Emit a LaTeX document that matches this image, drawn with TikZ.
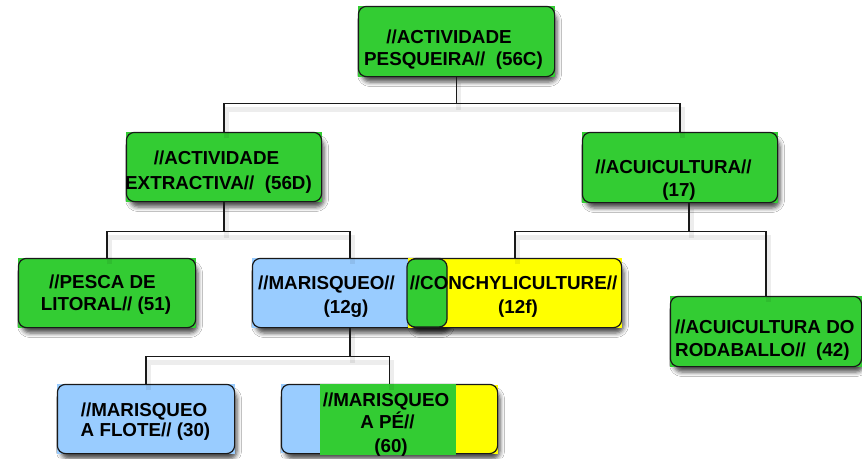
\documentclass[tikz,border=0pt]{standalone}
\usepackage{fontspec}
\setmainfont{Liberation Sans}
\usetikzlibrary{shadows.blur}
\definecolor{leaf}{RGB}{51,204,51}
\definecolor{sky}{RGB}{153,204,255}
\definecolor{sun}{RGB}{255,255,0}
\tikzset{
  box/.style={rectangle, inner sep=0pt, rounded corners=8pt, line width=1.2pt,
    blur shadow={shadow xshift=3pt, shadow yshift=-6pt, shadow blur radius=4.5pt, shadow opacity=70}},
  rim/.style={rounded corners=8pt, line width=1.2pt, draw=black!90},
  txt/.style={inner sep=0pt, anchor=base, font=\bfseries\fontsize{18.8}{22}\selectfont},
  txtl/.style={txt, anchor=base west},
  wire/.style={line width=1.2pt, draw=black!90},
  wireshade/.style={line width=5pt, draw=black, opacity=0.07, transform canvas={shift={(2pt,-6pt)}}},
}
% square colour fill behind a rounded outline
\newcommand\squarebox[2]{%
  \fill[#2] (#1.south west) rectangle (#1.north east);
  \draw[rim] (#1.south west) rectangle (#1.north east);}
% the tree connectors
\newcommand\treewires[1]{%
  \draw[#1] (top.south) -- ++(0,27) coordinate (hub1);
  \draw[#1] (ext.north) |- (hub1) -| (acu.north);
  \draw[#1] (ext.south) -- ++(0,30) coordinate (hub2);
  \draw[#1] (pesca.north) |- (hub2) -| (maris.north);
  \draw[#1] ([xshift=9pt]acu.south) -- ++(0,29) coordinate (hub3);
  \draw[#1] (conch.north) |- (hub3) -| (rodab.north);
  \draw[#1] (maris.south) -- ++(0,29) coordinate (hub4);
  \draw[#1] (flote.north) |- (hub4) -| (ape.north);}
\begin{document}
\begin{tikzpicture}[x=1pt, y=-1pt]
\fill[white] (0,0) rectangle (862,458);
\useasboundingbox (0,0) rectangle (862,458);

% boxes
\node[box, minimum width=195pt, minimum height=69pt] (top) at (456.5,41.5) {};
\squarebox{top}{leaf}
\node[box, minimum width=194pt, minimum height=68pt] (ext) at (224,167) {};
\squarebox{ext}{leaf}
\node[box, minimum width=194pt, minimum height=69pt] (acu) at (680,167.5) {};
\squarebox{acu}{leaf}
\node[box, minimum width=176pt, minimum height=68pt] (pesca) at (107,293) {};
\squarebox{pesca}{leaf}
\node[box, minimum width=194pt, minimum height=68pt] (maris) at (350,293) {};
\squarebox{maris}{sky}
\node[box, minimum width=212pt, minimum height=68pt] (conch) at (515,293) {};
\squarebox{conch}{sun}
\node[rim, fill=leaf, inner sep=0pt, minimum width=40pt, minimum height=68pt] (overlap) at (427,293) {};
\node[box, minimum width=190pt, minimum height=69pt] (rodab) at (766,331.5) {};
\squarebox{rodab}{leaf}
\node[box, minimum width=176pt, minimum height=68pt] (flote) at (146,419) {};
\squarebox{flote}{sky}
\node[box, minimum width=215pt, minimum height=68pt] (ape) at (389.5,419) {};
\fill[sky] (ape.north west) rectangle (320,453);
\fill[sun] (456,385) rectangle (ape.south east);
\draw[rim] (ape.south west) rectangle (ape.north east);
\node[fill=leaf, inner sep=0pt, minimum width=136pt, minimum height=71pt] (apemid) at (388,419.5) {};

% connectors
\treewires{wireshade}
\treewires{wire}

% labels
\node[txt] (t1a) at (449,43) {//ACTIVIDADE};
\node[txt] (t1b) at (453.5,65) {PESQUEIRA//\ \ (56C)};
\node[txt] (t2a) at (216.5,164) {//ACTIVIDADE};
\node[txt] (t2b) at (218.5,189) {EXTRACTIVA//\ \ (56D)};
\node[txt] (t3a) at (673.5,173) {//ACUICULTURA//};
\node[txt] (t3b) at (679,196) {(17)};
\node[txt] (t4a) at (102.5,288) {//PESCA DE};
\node[txt] (t4b) at (106,310) {LITORAL// (51)};
\node[txt] (t5a) at (326.5,289) {//MARISQUEO//};
\node[txt] (t5b) at (346,313) {(12g)};
\node[txt] (t6a) at (513.5,289) {//CONCHYLICULTURE//};
\node[txt] (t6b) at (518,313) {(12f)};
\node[txtl] (t7a) at (675,333) {//ACUICULTURA DO};
\node[txtl] (t7b) at (675,356) {RODABALLO//\ \ (42)};
\node[txt] (t8a) at (144,416) {//MARISQUEO};
\node[txt] (t8b) at (145.5,436) {A FLOTE// (30)};
\node[txt] (t9a) at (386,406) {//MARISQUEO};
\node[txt] (t9b) at (387.5,428) {A PÉ//};
\node[txt] (t9c) at (391,452) {(60)};
\end{tikzpicture}
\end{document}
